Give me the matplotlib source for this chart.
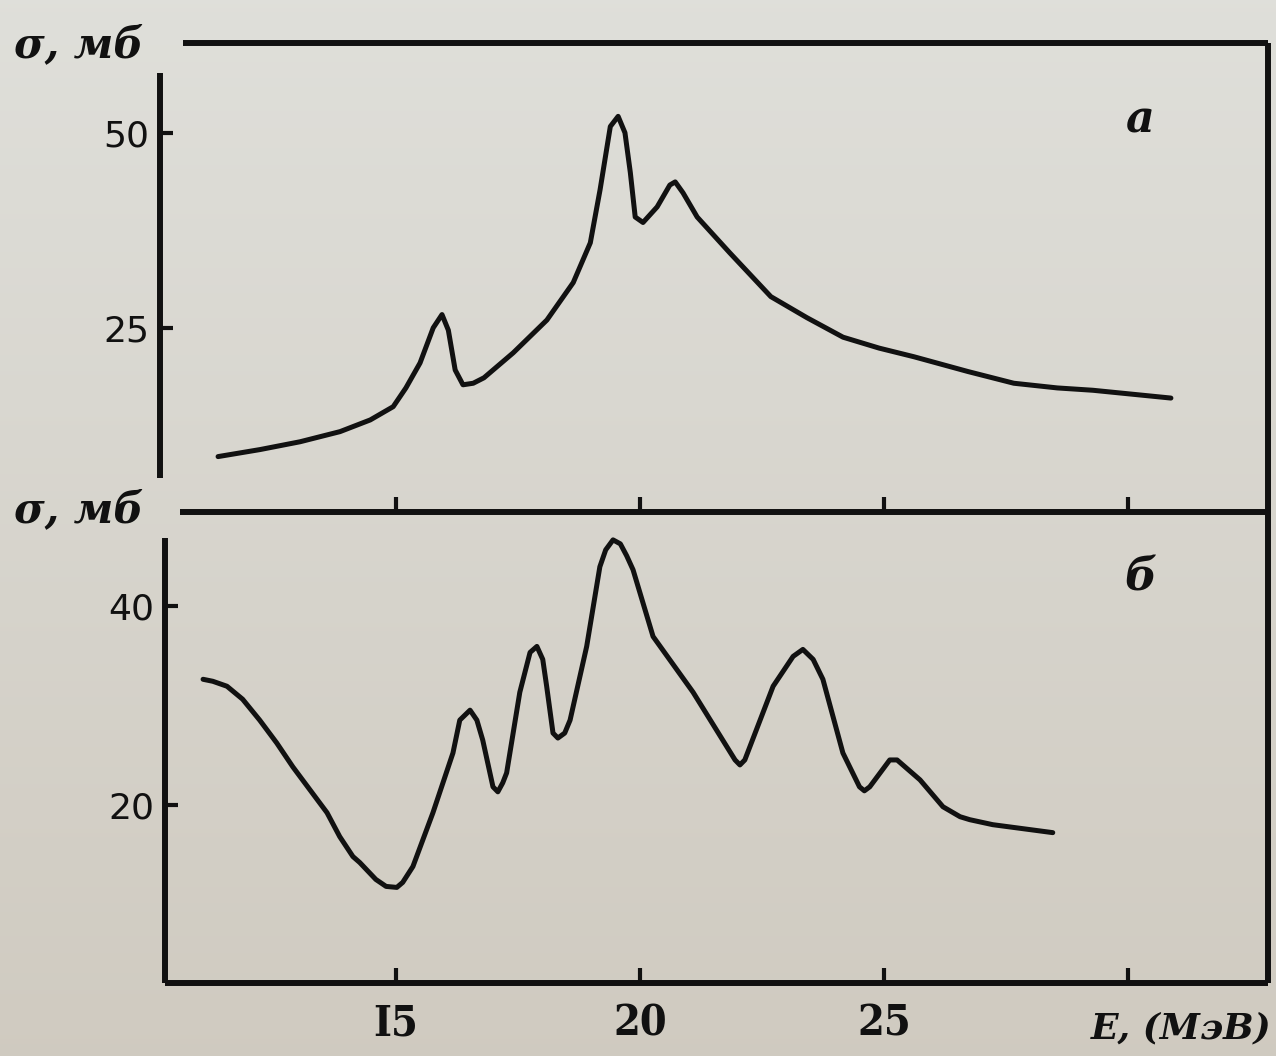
import matplotlib
matplotlib.use('Agg')
import matplotlib.pyplot as plt
import numpy as np

# ---- data ----
top_e = [11.35, 12.21, 13.03, 13.85, 14.47, 14.94, 15.20, 15.49, 15.76, 15.94,
         16.07, 16.21, 16.37, 16.58, 16.80, 17.40, 18.09, 18.63, 18.98, 19.18,
         19.39, 19.55, 19.69, 19.80, 19.90, 20.06, 20.35, 20.61, 20.72, 20.88,
         21.17, 21.84, 22.68, 23.42, 24.16, 24.90, 25.61, 26.72, 27.66, 28.55,
         29.28, 30.88]
top_sigma = [8.5, 9.4, 10.4, 11.7, 13.2, 14.9, 17.3, 20.5, 25.0, 26.7,
             24.7, 19.6, 17.7, 17.9, 18.6, 21.8, 26.0, 30.8, 35.9, 42.7,
             50.8, 52.1, 50.0, 44.9, 39.2, 38.5, 40.5, 43.3, 43.7, 42.3,
             39.2, 34.6, 29.0, 26.3, 23.8, 22.4, 21.3, 19.4, 17.9, 17.3,
             17.0, 16.0]

bot_e = [11.05, 11.25, 11.54, 11.86, 12.21, 12.56, 12.89, 13.24, 13.59, 13.85,
         14.12, 14.26, 14.59, 14.80, 15.02, 15.14, 15.35, 15.76, 16.17, 16.31,
         16.52, 16.66, 16.78, 16.99, 17.09, 17.19, 17.27, 17.54, 17.75, 17.89,
         18.01, 18.09, 18.22, 18.32, 18.46, 18.57, 18.91, 19.18, 19.30, 19.45,
         19.60, 19.73, 19.86, 20.27, 21.09, 21.95, 22.05, 22.15, 22.73, 23.14,
         23.34, 23.55, 23.75, 24.16, 24.50, 24.60, 24.71, 25.12, 25.27, 25.74,
         26.21, 26.56, 26.76, 27.23, 28.46]
bot_sigma = [32.6, 32.4, 31.9, 30.6, 28.5, 26.2, 23.8, 21.5, 19.2, 16.8,
             14.8, 14.2, 12.5, 11.8, 11.7, 12.2, 13.8, 19.2, 25.2, 28.5,
             29.5, 28.5, 26.5, 21.8, 21.3, 22.2, 23.2, 31.3, 35.3, 35.9,
             34.6, 31.9, 27.2, 26.7, 27.2, 28.5, 35.9, 43.9, 45.6, 46.6,
             46.2, 45.0, 43.6, 36.9, 31.3, 24.5, 24.0, 24.5, 31.9, 34.9,
             35.6, 34.6, 32.6, 25.2, 21.8, 21.4, 21.8, 24.5, 24.5, 22.5,
             19.8, 18.8, 18.5, 18.0, 17.2]

x_ticks = [15, 20, 25, 30]
x_tick_labels = ['I5', '20', '25', '']
top_y_ticks = [25, 50]
bot_y_ticks = [20, 40]

W, H = 1276, 1056
fig = plt.figure(figsize=(W / 100, H / 100), dpi=100)
bg = '#d6d4cd'
fig.patch.set_facecolor(bg)

# subtle paper tone: lighter at top, warmer at bottom
bgax = fig.add_axes([0, 0, 1, 1], zorder=-10)
bgax.axis('off')
c_top = np.array([0.875, 0.875, 0.855])
c_bot = np.array([0.815, 0.795, 0.755])
t = np.linspace(0, 1, 256)[:, None]
grad = (c_top * (1 - t) + c_bot * t)[:, None, :]
bgax.imshow(grad, aspect='auto', extent=[0, 1, 0, 1], origin='upper')


def fx(px):
    return px / W


def fy(py):
    return 1 - py / H


ink = '#111111'
spine_w = 4.3
curve_w = 3.6

ax1 = fig.add_axes([fx(160), fy(512), fx(1268) - fx(160), fy(43) - fy(512)])
ax2 = fig.add_axes([fx(165), fy(983), fx(1268) - fx(165), fy(512) - fy(983)])

for ax in (ax1, ax2):
    ax.set_facecolor('none')
    for s in ax.spines.values():
        s.set_linewidth(spine_w)
        s.set_color(ink)
        s.set_capstyle('butt')

# top panel
ax1.plot(top_e, top_sigma, color=ink, lw=curve_w, solid_joinstyle='round',
         solid_capstyle='round')
ax1.set_xlim(10.16, 32.87)
ax1.set_ylim(1.4, 61.5)
ax1.spines['top'].set_bounds(10.64, 32.87)
ax1.spines['left'].set_bounds(5.8, 57.7)
ax1.spines['bottom'].set_bounds(10.57, 32.87)
ax1.set_xticks(x_ticks)
ax1.set_xticklabels([])
ax1.set_yticks(top_y_ticks)
ax1.set_yticklabels([str(v) for v in top_y_ticks])
ax1.tick_params(axis='x', direction='in', length=11, width=3, color=ink,
                labelbottom=False)
ax1.tick_params(axis='y', direction='in', length=9, width=3, color=ink,
                labelsize=26, pad=8, labelcolor=ink)

# bottom panel
ax2.plot(bot_e, bot_sigma, color=ink, lw=curve_w, solid_joinstyle='round',
         solid_capstyle='round')
ax2.set_xlim(10.27, 32.87)
ax2.set_ylim(2.1, 49.4)
ax2.spines['top'].set_visible(False)
ax2.spines['left'].set_bounds(2.1, 46.8)
ax2.set_xticks(x_ticks)
ax2.set_xticklabels(x_tick_labels)
ax2.set_yticks(bot_y_ticks)
ax2.set_yticklabels([str(v) for v in bot_y_ticks])
ax2.tick_params(axis='x', direction='in', length=11, width=3, color=ink,
                pad=14, labelcolor=ink)
ax2.tick_params(axis='y', direction='in', length=9, width=3, color=ink,
                labelsize=26, pad=8, labelcolor=ink)
for lbl in ax2.get_xticklabels():
    lbl.set_fontfamily('DejaVu Serif')
    lbl.set_fontweight('bold')
    lbl.set_fontsize(31)
    lbl.set_fontstretch('condensed')
for ax in (ax1, ax2):
    for lbl in ax.get_yticklabels():
        lbl.set_fontfamily('DejaVu Sans')
        lbl.set_fontweight('medium')

lab_kw = dict(family='DejaVu Serif', weight='bold', style='italic',
              color=ink)
fig.text(fx(14), fy(45), 'σ, мб', fontsize=30, ha='left', va='center', **lab_kw)
fig.text(fx(14), fy(510), 'σ, мб', fontsize=30, ha='left', va='center', **lab_kw)
fig.text(fx(1140), fy(120), 'а', fontsize=32, ha='center', va='center', **lab_kw)
fig.text(fx(1140), fy(578), 'б', fontsize=32, ha='center', va='center', **lab_kw)
fig.text(fx(1272), fy(1028), 'E, (МэВ)', fontsize=26, ha='right', va='center',
         **lab_kw)

fig.savefig('out.png', dpi=100, facecolor=bg)
